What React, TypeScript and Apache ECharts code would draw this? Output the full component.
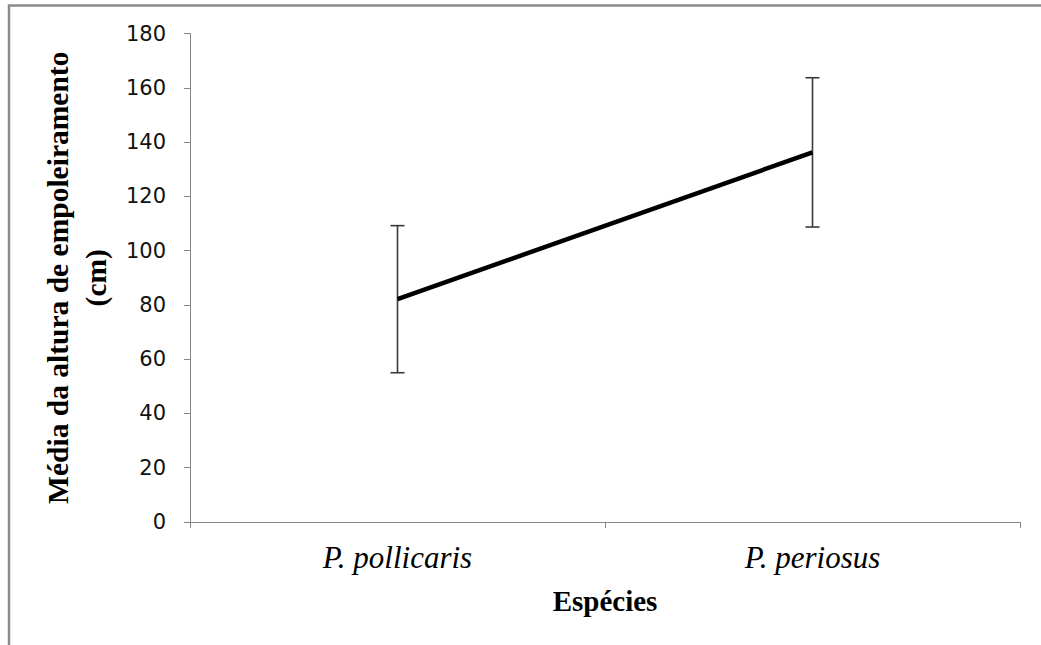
import React, { useEffect, useRef } from "react";
import * as echarts from "echarts";

const categories = ["P. pollicaris", "P. periosus"];
const means = [82.1, 136.2];
const errors = [27.1, 27.5];
const yTicks = { min: 0, max: 180, interval: 20 };

export default function App() {
  const ref = useRef<HTMLDivElement>(null);
  useEffect(() => {
    if (!ref.current) return;
    const chart = echarts.init(ref.current, null, { renderer: "svg" });
    const errData = categories.map((_, i) => [i, means[i] - errors[i], means[i] + errors[i]]);
    chart.setOption({
      animation: false,
      backgroundColor: "#ffffff",
      graphic: [
        {
          type: "rect",
          left: 6.5,
          top: 3,
          shape: { width: 1100, height: 700 },
          style: { fill: "none", stroke: "#8a8a8a", lineWidth: 2.5 },
          silent: true,
          z: -1,
        },
      ],
      grid: { left: 190, top: 33.5, width: 830, height: 488.5, containLabel: false },
      xAxis: {
        type: "category",
        data: categories,
        boundaryGap: true,
        axisLine: { show: true, lineStyle: { color: "#868686", width: 1 } },
        axisTick: { show: true, length: 6, interval: 0, lineStyle: { color: "#868686" } },
        axisLabel: {
          interval: 0,
          margin: 20,
          color: "#000",
          fontFamily: "Liberation Serif",
          fontStyle: "italic",
          fontSize: 31,
        },
        name: "Espécies",
        nameLocation: "middle",
        nameGap: 64,
        nameTextStyle: {
          color: "#000",
          fontFamily: "Liberation Serif",
          fontWeight: "bold",
          fontSize: 29,
        },
        splitLine: { show: false },
      },
      yAxis: {
        type: "value",
        min: yTicks.min,
        max: yTicks.max,
        interval: yTicks.interval,
        axisLine: { show: true, lineStyle: { color: "#868686", width: 1 } },
        axisTick: { show: true, length: 6, lineStyle: { color: "#868686" } },
        axisLabel: {
          margin: 24,
          color: "#111",
          fontFamily: "DejaVu Sans",
          fontSize: 21,
        },
        splitLine: { show: false },
        name: "Média da altura de empoleiramento\n(cm)",
        nameLocation: "middle",
        nameRotate: 90,
        nameGap: 75,
        nameTextStyle: {
          color: "#000",
          fontFamily: "Liberation Serif",
          fontWeight: "bold",
          fontSize: 29.5,
          lineHeight: 38,
        },
      },
      series: [
        {
          type: "line",
          data: means,
          symbol: "none",
          lineStyle: { color: "#000", width: 4.5 },
          z: 3,
        },
        {
          type: "custom",
          data: errData,
          encode: { x: 0, y: [1, 2] },
          z: 2,
          renderItem: (params: any, api: any) => {
            const x = api.value(0);
            const lo = api.coord([x, api.value(1)]);
            const hi = api.coord([x, api.value(2)]);
            const half = 7;
            const style = { stroke: "#3a3a3a", lineWidth: 1.6 };
            return {
              type: "group",
              children: [
                { type: "line", shape: { x1: hi[0], y1: hi[1], x2: lo[0], y2: lo[1] }, style },
                { type: "line", shape: { x1: hi[0] - half, y1: hi[1], x2: hi[0] + half, y2: hi[1] }, style },
                { type: "line", shape: { x1: lo[0] - half, y1: lo[1], x2: lo[0] + half, y2: lo[1] }, style },
              ],
            };
          },
        },
      ],
    });
    return () => chart.dispose();
  }, []);
  return (
    <div
      ref={ref}
      style={{ position: "fixed", left: 0, top: 0, width: 1041, height: 645 }}
    />
  );
}
